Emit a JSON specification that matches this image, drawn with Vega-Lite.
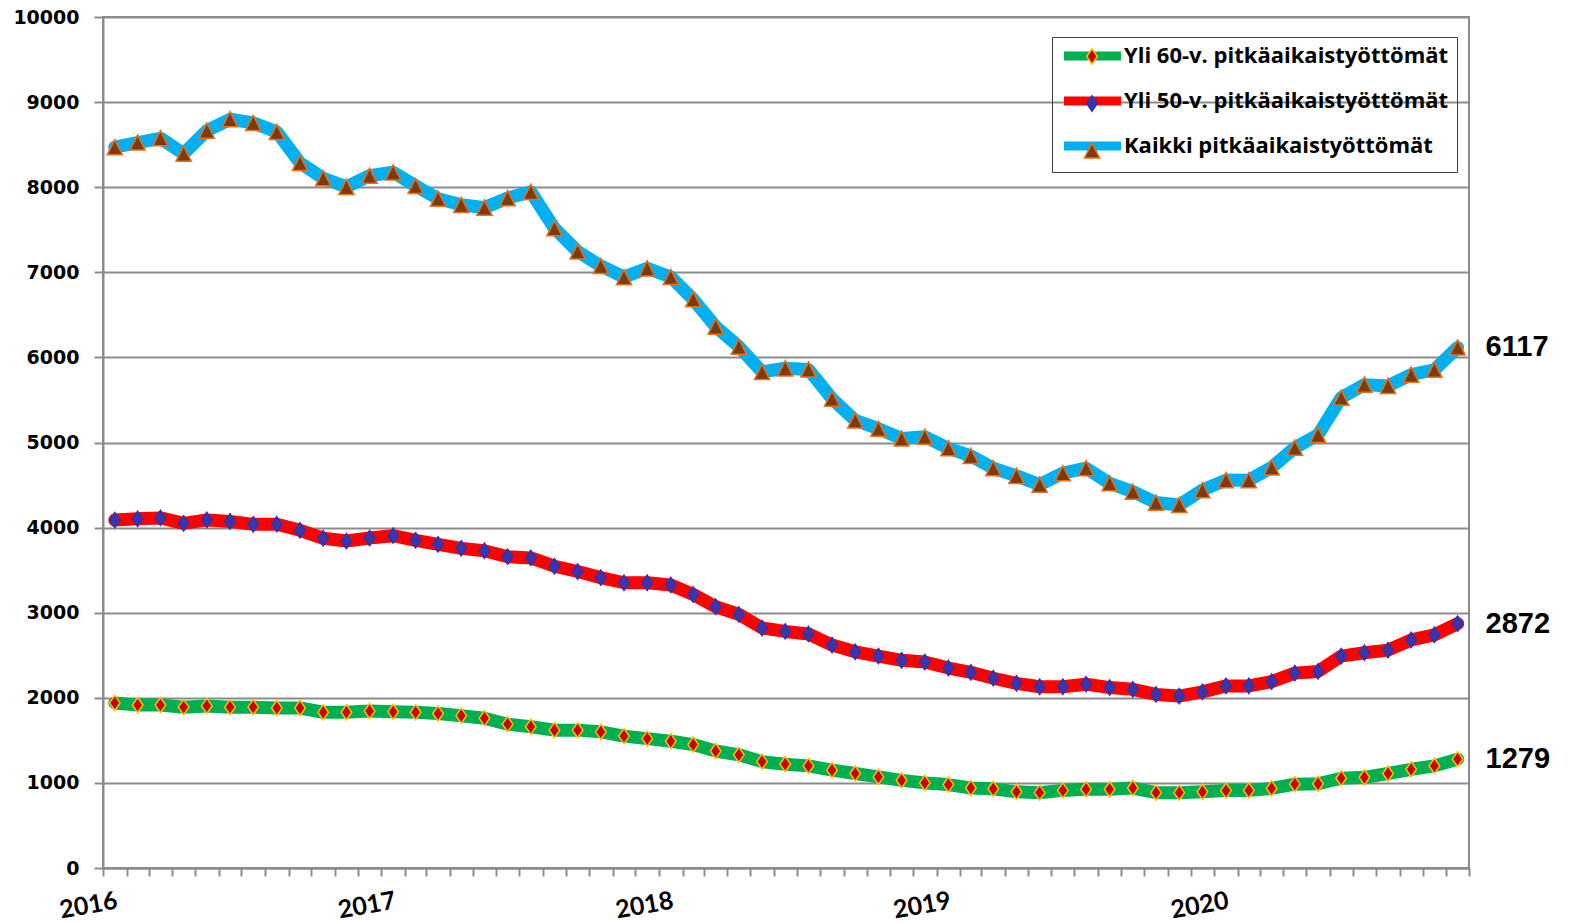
{
  "$schema": "https://vega.github.io/schema/vega-lite/v6.json",
  "width": 1366,
  "height": 851,
  "autosize": "none",
  "padding": {"left": 103, "top": 17, "right": 102, "bottom": 54},
  "background": "white",
  "config": {"view": {"stroke": "#8c8c8c", "strokeWidth": 2}},
  "data": {"values": [
    {"kk":"2016-01","sarja":"Kaikki pitkäaikaistyöttömät","arvo":8470},
    {"kk":"2016-02","sarja":"Kaikki pitkäaikaistyöttömät","arvo":8525},
    {"kk":"2016-03","sarja":"Kaikki pitkäaikaistyöttömät","arvo":8575},
    {"kk":"2016-04","sarja":"Kaikki pitkäaikaistyöttömät","arvo":8395},
    {"kk":"2016-05","sarja":"Kaikki pitkäaikaistyöttömät","arvo":8665},
    {"kk":"2016-06","sarja":"Kaikki pitkäaikaistyöttömät","arvo":8798},
    {"kk":"2016-07","sarja":"Kaikki pitkäaikaistyöttömät","arvo":8755},
    {"kk":"2016-08","sarja":"Kaikki pitkäaikaistyöttömät","arvo":8650},
    {"kk":"2016-09","sarja":"Kaikki pitkäaikaistyöttömät","arvo":8285},
    {"kk":"2016-10","sarja":"Kaikki pitkäaikaistyöttömät","arvo":8105},
    {"kk":"2016-11","sarja":"Kaikki pitkäaikaistyöttömät","arvo":8003},
    {"kk":"2016-12","sarja":"Kaikki pitkäaikaistyöttömät","arvo":8135},
    {"kk":"2017-01","sarja":"Kaikki pitkäaikaistyöttömät","arvo":8175},
    {"kk":"2017-02","sarja":"Kaikki pitkäaikaistyöttömät","arvo":8015},
    {"kk":"2017-03","sarja":"Kaikki pitkäaikaistyöttömät","arvo":7865},
    {"kk":"2017-04","sarja":"Kaikki pitkäaikaistyöttömät","arvo":7793},
    {"kk":"2017-05","sarja":"Kaikki pitkäaikaistyöttömät","arvo":7760},
    {"kk":"2017-06","sarja":"Kaikki pitkäaikaistyöttömät","arvo":7872},
    {"kk":"2017-07","sarja":"Kaikki pitkäaikaistyöttömät","arvo":7945},
    {"kk":"2017-08","sarja":"Kaikki pitkäaikaistyöttömät","arvo":7518},
    {"kk":"2017-09","sarja":"Kaikki pitkäaikaistyöttömät","arvo":7245},
    {"kk":"2017-10","sarja":"Kaikki pitkäaikaistyöttömät","arvo":7075},
    {"kk":"2017-11","sarja":"Kaikki pitkäaikaistyöttömät","arvo":6943},
    {"kk":"2017-12","sarja":"Kaikki pitkäaikaistyöttömät","arvo":7047},
    {"kk":"2018-01","sarja":"Kaikki pitkäaikaistyöttömät","arvo":6945},
    {"kk":"2018-02","sarja":"Kaikki pitkäaikaistyöttömät","arvo":6683},
    {"kk":"2018-03","sarja":"Kaikki pitkäaikaistyöttömät","arvo":6362},
    {"kk":"2018-04","sarja":"Kaikki pitkäaikaistyöttömät","arvo":6127},
    {"kk":"2018-05","sarja":"Kaikki pitkäaikaistyöttömät","arvo":5830},
    {"kk":"2018-06","sarja":"Kaikki pitkäaikaistyöttömät","arvo":5872},
    {"kk":"2018-07","sarja":"Kaikki pitkäaikaistyöttömät","arvo":5858},
    {"kk":"2018-08","sarja":"Kaikki pitkäaikaistyöttömät","arvo":5515},
    {"kk":"2018-09","sarja":"Kaikki pitkäaikaistyöttömät","arvo":5260},
    {"kk":"2018-10","sarja":"Kaikki pitkäaikaistyöttömät","arvo":5162},
    {"kk":"2018-11","sarja":"Kaikki pitkäaikaistyöttömät","arvo":5047},
    {"kk":"2018-12","sarja":"Kaikki pitkäaikaistyöttömät","arvo":5068},
    {"kk":"2019-01","sarja":"Kaikki pitkäaikaistyöttömät","arvo":4932},
    {"kk":"2019-02","sarja":"Kaikki pitkäaikaistyöttömät","arvo":4843},
    {"kk":"2019-03","sarja":"Kaikki pitkäaikaistyöttömät","arvo":4697},
    {"kk":"2019-04","sarja":"Kaikki pitkäaikaistyöttömät","arvo":4608},
    {"kk":"2019-05","sarja":"Kaikki pitkäaikaistyöttömät","arvo":4505},
    {"kk":"2019-06","sarja":"Kaikki pitkäaikaistyöttömät","arvo":4640},
    {"kk":"2019-07","sarja":"Kaikki pitkäaikaistyöttömät","arvo":4698},
    {"kk":"2019-08","sarja":"Kaikki pitkäaikaistyöttömät","arvo":4521},
    {"kk":"2019-09","sarja":"Kaikki pitkäaikaistyöttömät","arvo":4423},
    {"kk":"2019-10","sarja":"Kaikki pitkäaikaistyöttömät","arvo":4294},
    {"kk":"2019-11","sarja":"Kaikki pitkäaikaistyöttömät","arvo":4266},
    {"kk":"2019-12","sarja":"Kaikki pitkäaikaistyöttömät","arvo":4441},
    {"kk":"2020-01","sarja":"Kaikki pitkäaikaistyöttömät","arvo":4558},
    {"kk":"2020-02","sarja":"Kaikki pitkäaikaistyöttömät","arvo":4557},
    {"kk":"2020-03","sarja":"Kaikki pitkäaikaistyöttömät","arvo":4707},
    {"kk":"2020-04","sarja":"Kaikki pitkäaikaistyöttömät","arvo":4939},
    {"kk":"2020-05","sarja":"Kaikki pitkäaikaistyöttömät","arvo":5090},
    {"kk":"2020-06","sarja":"Kaikki pitkäaikaistyöttömät","arvo":5527},
    {"kk":"2020-07","sarja":"Kaikki pitkäaikaistyöttömät","arvo":5680},
    {"kk":"2020-08","sarja":"Kaikki pitkäaikaistyöttömät","arvo":5665},
    {"kk":"2020-09","sarja":"Kaikki pitkäaikaistyöttömät","arvo":5798},
    {"kk":"2020-10","sarja":"Kaikki pitkäaikaistyöttömät","arvo":5855},
    {"kk":"2020-11","sarja":"Kaikki pitkäaikaistyöttömät","arvo":6117},
    {"kk":"2016-01","sarja":"Yli 50-v. pitkäaikaistyöttömät","arvo":4088},
    {"kk":"2016-02","sarja":"Yli 50-v. pitkäaikaistyöttömät","arvo":4103},
    {"kk":"2016-03","sarja":"Yli 50-v. pitkäaikaistyöttömät","arvo":4114},
    {"kk":"2016-04","sarja":"Yli 50-v. pitkäaikaistyöttömät","arvo":4050},
    {"kk":"2016-05","sarja":"Yli 50-v. pitkäaikaistyöttömät","arvo":4090},
    {"kk":"2016-06","sarja":"Yli 50-v. pitkäaikaistyöttömät","arvo":4073},
    {"kk":"2016-07","sarja":"Yli 50-v. pitkäaikaistyöttömät","arvo":4038},
    {"kk":"2016-08","sarja":"Yli 50-v. pitkäaikaistyöttömät","arvo":4040},
    {"kk":"2016-09","sarja":"Yli 50-v. pitkäaikaistyöttömät","arvo":3968},
    {"kk":"2016-10","sarja":"Yli 50-v. pitkäaikaistyöttömät","arvo":3875},
    {"kk":"2016-11","sarja":"Yli 50-v. pitkäaikaistyöttömät","arvo":3842},
    {"kk":"2016-12","sarja":"Yli 50-v. pitkäaikaistyöttömät","arvo":3877},
    {"kk":"2017-01","sarja":"Yli 50-v. pitkäaikaistyöttömät","arvo":3905},
    {"kk":"2017-02","sarja":"Yli 50-v. pitkäaikaistyöttömät","arvo":3850},
    {"kk":"2017-03","sarja":"Yli 50-v. pitkäaikaistyöttömät","arvo":3803},
    {"kk":"2017-04","sarja":"Yli 50-v. pitkäaikaistyöttömät","arvo":3756},
    {"kk":"2017-05","sarja":"Yli 50-v. pitkäaikaistyöttömät","arvo":3728},
    {"kk":"2017-06","sarja":"Yli 50-v. pitkäaikaistyöttömät","arvo":3658},
    {"kk":"2017-07","sarja":"Yli 50-v. pitkäaikaistyöttömät","arvo":3643},
    {"kk":"2017-08","sarja":"Yli 50-v. pitkäaikaistyöttömät","arvo":3546},
    {"kk":"2017-09","sarja":"Yli 50-v. pitkäaikaistyöttömät","arvo":3484},
    {"kk":"2017-10","sarja":"Yli 50-v. pitkäaikaistyöttömät","arvo":3412},
    {"kk":"2017-11","sarja":"Yli 50-v. pitkäaikaistyöttömät","arvo":3352},
    {"kk":"2017-12","sarja":"Yli 50-v. pitkäaikaistyöttömät","arvo":3352},
    {"kk":"2018-01","sarja":"Yli 50-v. pitkäaikaistyöttömät","arvo":3326},
    {"kk":"2018-02","sarja":"Yli 50-v. pitkäaikaistyöttömät","arvo":3214},
    {"kk":"2018-03","sarja":"Yli 50-v. pitkäaikaistyöttömät","arvo":3070},
    {"kk":"2018-04","sarja":"Yli 50-v. pitkäaikaistyöttömät","arvo":2980},
    {"kk":"2018-05","sarja":"Yli 50-v. pitkäaikaistyöttömät","arvo":2820},
    {"kk":"2018-06","sarja":"Yli 50-v. pitkäaikaistyöttömät","arvo":2780},
    {"kk":"2018-07","sarja":"Yli 50-v. pitkäaikaistyöttömät","arvo":2750},
    {"kk":"2018-08","sarja":"Yli 50-v. pitkäaikaistyöttömät","arvo":2620},
    {"kk":"2018-09","sarja":"Yli 50-v. pitkäaikaistyöttömät","arvo":2540},
    {"kk":"2018-10","sarja":"Yli 50-v. pitkäaikaistyöttömät","arvo":2490},
    {"kk":"2018-11","sarja":"Yli 50-v. pitkäaikaistyöttömät","arvo":2440},
    {"kk":"2018-12","sarja":"Yli 50-v. pitkäaikaistyöttömät","arvo":2420},
    {"kk":"2019-01","sarja":"Yli 50-v. pitkäaikaistyöttömät","arvo":2350},
    {"kk":"2019-02","sarja":"Yli 50-v. pitkäaikaistyöttömät","arvo":2300},
    {"kk":"2019-03","sarja":"Yli 50-v. pitkäaikaistyöttömät","arvo":2230},
    {"kk":"2019-04","sarja":"Yli 50-v. pitkäaikaistyöttömät","arvo":2170},
    {"kk":"2019-05","sarja":"Yli 50-v. pitkäaikaistyöttömät","arvo":2130},
    {"kk":"2019-06","sarja":"Yli 50-v. pitkäaikaistyöttömät","arvo":2130},
    {"kk":"2019-07","sarja":"Yli 50-v. pitkäaikaistyöttömät","arvo":2160},
    {"kk":"2019-08","sarja":"Yli 50-v. pitkäaikaistyöttömät","arvo":2120},
    {"kk":"2019-09","sarja":"Yli 50-v. pitkäaikaistyöttömät","arvo":2100},
    {"kk":"2019-10","sarja":"Yli 50-v. pitkäaikaistyöttömät","arvo":2040},
    {"kk":"2019-11","sarja":"Yli 50-v. pitkäaikaistyöttömät","arvo":2020},
    {"kk":"2019-12","sarja":"Yli 50-v. pitkäaikaistyöttömät","arvo":2070},
    {"kk":"2020-01","sarja":"Yli 50-v. pitkäaikaistyöttömät","arvo":2140},
    {"kk":"2020-02","sarja":"Yli 50-v. pitkäaikaistyöttömät","arvo":2140},
    {"kk":"2020-03","sarja":"Yli 50-v. pitkäaikaistyöttömät","arvo":2190},
    {"kk":"2020-04","sarja":"Yli 50-v. pitkäaikaistyöttömät","arvo":2290},
    {"kk":"2020-05","sarja":"Yli 50-v. pitkäaikaistyöttömät","arvo":2310},
    {"kk":"2020-06","sarja":"Yli 50-v. pitkäaikaistyöttömät","arvo":2490},
    {"kk":"2020-07","sarja":"Yli 50-v. pitkäaikaistyöttömät","arvo":2530},
    {"kk":"2020-08","sarja":"Yli 50-v. pitkäaikaistyöttömät","arvo":2560},
    {"kk":"2020-09","sarja":"Yli 50-v. pitkäaikaistyöttömät","arvo":2680},
    {"kk":"2020-10","sarja":"Yli 50-v. pitkäaikaistyöttömät","arvo":2740},
    {"kk":"2020-11","sarja":"Yli 50-v. pitkäaikaistyöttömät","arvo":2872},
    {"kk":"2016-01","sarja":"Yli 60-v. pitkäaikaistyöttömät","arvo":1940},
    {"kk":"2016-02","sarja":"Yli 60-v. pitkäaikaistyöttömät","arvo":1915},
    {"kk":"2016-03","sarja":"Yli 60-v. pitkäaikaistyöttömät","arvo":1915},
    {"kk":"2016-04","sarja":"Yli 60-v. pitkäaikaistyöttömät","arvo":1890},
    {"kk":"2016-05","sarja":"Yli 60-v. pitkäaikaistyöttömät","arvo":1905},
    {"kk":"2016-06","sarja":"Yli 60-v. pitkäaikaistyöttömät","arvo":1890},
    {"kk":"2016-07","sarja":"Yli 60-v. pitkäaikaistyöttömät","arvo":1890},
    {"kk":"2016-08","sarja":"Yli 60-v. pitkäaikaistyöttömät","arvo":1880},
    {"kk":"2016-09","sarja":"Yli 60-v. pitkäaikaistyöttömät","arvo":1880},
    {"kk":"2016-10","sarja":"Yli 60-v. pitkäaikaistyöttömät","arvo":1830},
    {"kk":"2016-11","sarja":"Yli 60-v. pitkäaikaistyöttömät","arvo":1830},
    {"kk":"2016-12","sarja":"Yli 60-v. pitkäaikaistyöttömät","arvo":1845},
    {"kk":"2017-01","sarja":"Yli 60-v. pitkäaikaistyöttömät","arvo":1835},
    {"kk":"2017-02","sarja":"Yli 60-v. pitkäaikaistyöttömät","arvo":1830},
    {"kk":"2017-03","sarja":"Yli 60-v. pitkäaikaistyöttömät","arvo":1815},
    {"kk":"2017-04","sarja":"Yli 60-v. pitkäaikaistyöttömät","arvo":1790},
    {"kk":"2017-05","sarja":"Yli 60-v. pitkäaikaistyöttömät","arvo":1760},
    {"kk":"2017-06","sarja":"Yli 60-v. pitkäaikaistyöttömät","arvo":1690},
    {"kk":"2017-07","sarja":"Yli 60-v. pitkäaikaistyöttömät","arvo":1660},
    {"kk":"2017-08","sarja":"Yli 60-v. pitkäaikaistyöttömät","arvo":1620},
    {"kk":"2017-09","sarja":"Yli 60-v. pitkäaikaistyöttömät","arvo":1620},
    {"kk":"2017-10","sarja":"Yli 60-v. pitkäaikaistyöttömät","arvo":1600},
    {"kk":"2017-11","sarja":"Yli 60-v. pitkäaikaistyöttömät","arvo":1550},
    {"kk":"2017-12","sarja":"Yli 60-v. pitkäaikaistyöttömät","arvo":1520},
    {"kk":"2018-01","sarja":"Yli 60-v. pitkäaikaistyöttömät","arvo":1490},
    {"kk":"2018-02","sarja":"Yli 60-v. pitkäaikaistyöttömät","arvo":1450},
    {"kk":"2018-03","sarja":"Yli 60-v. pitkäaikaistyöttömät","arvo":1375},
    {"kk":"2018-04","sarja":"Yli 60-v. pitkäaikaistyöttömät","arvo":1330},
    {"kk":"2018-05","sarja":"Yli 60-v. pitkäaikaistyöttömät","arvo":1250},
    {"kk":"2018-06","sarja":"Yli 60-v. pitkäaikaistyöttömät","arvo":1220},
    {"kk":"2018-07","sarja":"Yli 60-v. pitkäaikaistyöttömät","arvo":1200},
    {"kk":"2018-08","sarja":"Yli 60-v. pitkäaikaistyöttömät","arvo":1150},
    {"kk":"2018-09","sarja":"Yli 60-v. pitkäaikaistyöttömät","arvo":1110},
    {"kk":"2018-10","sarja":"Yli 60-v. pitkäaikaistyöttömät","arvo":1070},
    {"kk":"2018-11","sarja":"Yli 60-v. pitkäaikaistyöttömät","arvo":1030},
    {"kk":"2018-12","sarja":"Yli 60-v. pitkäaikaistyöttömät","arvo":1000},
    {"kk":"2019-01","sarja":"Yli 60-v. pitkäaikaistyöttömät","arvo":980},
    {"kk":"2019-02","sarja":"Yli 60-v. pitkäaikaistyöttömät","arvo":940},
    {"kk":"2019-03","sarja":"Yli 60-v. pitkäaikaistyöttömät","arvo":930},
    {"kk":"2019-04","sarja":"Yli 60-v. pitkäaikaistyöttömät","arvo":895},
    {"kk":"2019-05","sarja":"Yli 60-v. pitkäaikaistyöttömät","arvo":885},
    {"kk":"2019-06","sarja":"Yli 60-v. pitkäaikaistyöttömät","arvo":912},
    {"kk":"2019-07","sarja":"Yli 60-v. pitkäaikaistyöttömät","arvo":925},
    {"kk":"2019-08","sarja":"Yli 60-v. pitkäaikaistyöttömät","arvo":925},
    {"kk":"2019-09","sarja":"Yli 60-v. pitkäaikaistyöttömät","arvo":940},
    {"kk":"2019-10","sarja":"Yli 60-v. pitkäaikaistyöttömät","arvo":885},
    {"kk":"2019-11","sarja":"Yli 60-v. pitkäaikaistyöttömät","arvo":885},
    {"kk":"2019-12","sarja":"Yli 60-v. pitkäaikaistyöttömät","arvo":895},
    {"kk":"2020-01","sarja":"Yli 60-v. pitkäaikaistyöttömät","arvo":910},
    {"kk":"2020-02","sarja":"Yli 60-v. pitkäaikaistyöttömät","arvo":912},
    {"kk":"2020-03","sarja":"Yli 60-v. pitkäaikaistyöttömät","arvo":935},
    {"kk":"2020-04","sarja":"Yli 60-v. pitkäaikaistyöttömät","arvo":985},
    {"kk":"2020-05","sarja":"Yli 60-v. pitkäaikaistyöttömät","arvo":990},
    {"kk":"2020-06","sarja":"Yli 60-v. pitkäaikaistyöttömät","arvo":1055},
    {"kk":"2020-07","sarja":"Yli 60-v. pitkäaikaistyöttömät","arvo":1065},
    {"kk":"2020-08","sarja":"Yli 60-v. pitkäaikaistyöttömät","arvo":1110},
    {"kk":"2020-09","sarja":"Yli 60-v. pitkäaikaistyöttömät","arvo":1160},
    {"kk":"2020-10","sarja":"Yli 60-v. pitkäaikaistyöttömät","arvo":1200},
    {"kk":"2020-11","sarja":"Yli 60-v. pitkäaikaistyöttömät","arvo":1279}
  ]},
  "encoding": {
    "x": {
      "field": "kk", "timeUnit": "utcyearmonth", "type": "temporal", "bandPosition": 0.5,
      "scale": {"domain": [{"year": 2016, "month": 1, "date": 1, "utc": true}, {"year": 2020, "month": 12, "date": 1, "utc": true}]},
      "axis": {
        "title": null, "grid": false,
        "tickCount": {"interval": "month", "step": 1},
        "labelExpr": "utcmonth(datum.value) == 0 ? utcFormat(datum.value, '%Y') : ''",
        "labelAngle": -10, "labelAlign": "center", "labelBaseline": "middle",
        "labelOffset": -15, "labelPadding": 29,
        "labelFont": "Lato", "labelFontWeight": "bold", "labelFontSize": 25, "labelColor": "black",
        "labelOverlap": false, "labelFlush": false, "labelBound": false,
        "tickSize": 8, "tickColor": "#8c8c8c", "tickWidth": 2,
        "domainColor": "#8c8c8c", "domainWidth": 2
      }
    },
    "y": {
      "field": "arvo", "type": "quantitative",
      "scale": {"domain": [0, 10000], "nice": false},
      "axis": {
        "title": null, "grid": true,
        "values": [0, 1000, 2000, 3000, 4000, 5000, 6000, 7000, 8000, 9000, 10000],
        "format": "d",
        "gridColor": "#8c8c8c", "gridWidth": 2,
        "labelFont": "DejaVu Sans", "labelFontWeight": "bold", "labelFontSize": 19, "labelColor": "black",
        "labelPadding": 15,
        "tickSize": 9, "tickColor": "#8c8c8c", "tickWidth": 2,
        "domainColor": "#8c8c8c", "domainWidth": 2
      }
    }
  },
  "layer": [
    {
      "mark": {"type": "line", "strokeWidth": 13, "strokeCap": "round", "strokeJoin": "round"},
      "encoding": {
        "color": {
          "field": "sarja", "type": "nominal",
          "scale": {
            "domain": ["Yli 60-v. pitkäaikaistyöttömät", "Yli 50-v. pitkäaikaistyöttömät", "Kaikki pitkäaikaistyöttömät"],
            "range": ["#00B050", "#FF0000", "#00B0F0"]
          },
          "legend": {
            "orient": "none", "legendX": 949, "legendY": 20,
            "title": null, "padding": 8,
            "strokeColor": "#404040",
            "symbolType": "M-4.75,0H4.75", "symbolSize": 144, "symbolStrokeWidth": 9, "symbolOffset": 21.5,
            "labelFont": "Open Sans", "labelFontWeight": "bold", "labelFontSize": 22, "labelColor": "black",
            "labelOffset": 20.5, "rowPadding": 9, "labelLimit": 500
          }
        }
      }
    },
    {
      "mark": {"type": "point", "filled": true, "size": 230, "strokeWidth": 1.5, "opacity": 1},
      "encoding": {
        "shape": {
          "field": "sarja", "type": "nominal", "sort": "descending",
          "scale": {"range": ["M0,-1L0.7,0L0,1L-0.7,0Z", "M0,-1L0.7,0L0,1L-0.7,0Z", "M0,-1L1,1L-1,1Z"]},
          "legend": {
            "orient": "none", "legendX": 949, "legendY": 21,
            "title": null, "padding": 8,
            "symbolSize": 230, "symbolStrokeWidth": 1.5, "symbolOffset": 21.5, "symbolOpacity": 1,
            "labelFontSize": 21, "labelOffset": 19.5, "rowPadding": 24,
            "labelExpr": "''"
          }
        },
        "fill": {
          "field": "sarja", "type": "nominal", "sort": "descending",
          "scale": {"range": ["#CC0000", "#3636B0", "#7F3A0C"]},
          "legend": {
            "orient": "none", "legendX": 949, "legendY": 21,
            "title": null, "padding": 8,
            "symbolSize": 230, "symbolStrokeWidth": 1.5, "symbolOffset": 21.5, "symbolOpacity": 1,
            "labelFontSize": 21, "labelOffset": 19.5, "rowPadding": 24,
            "labelExpr": "''"
          }
        },
        "stroke": {
          "field": "sarja", "type": "nominal", "sort": "descending",
          "scale": {"range": ["#FFC000", "#3333A8", "#E8701A"]},
          "legend": null
        }
      }
    },
    {
      "transform": [{"filter": "utcyear(datum.kk) == 2020 && utcmonth(datum.kk) == 10"}],
      "mark": {"type": "text", "align": "left", "baseline": "middle", "dx": 28, "font": "Liberation Sans", "fontWeight": "bold", "fontSize": 29, "color": "black"},
      "encoding": {"text": {"field": "arvo", "type": "quantitative", "format": "d"}}
    }
  ]
}
